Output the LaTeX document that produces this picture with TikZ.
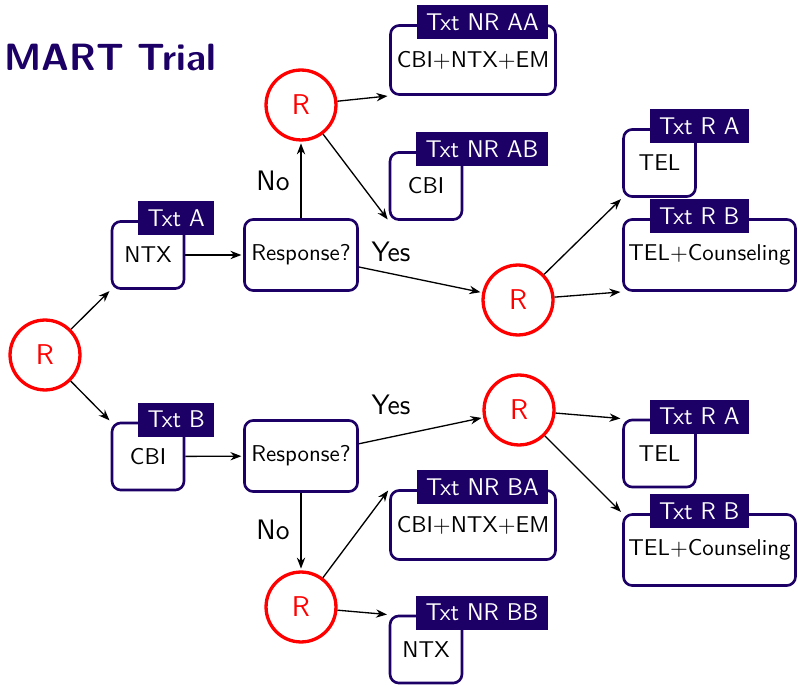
\documentclass[tikz,border=0pt]{standalone}
\usetikzlibrary{arrows.meta}
\definecolor{indigo}{RGB}{28,0,102}
\begin{document}
\begin{tikzpicture}[x=0.4547pt,y=-0.4547pt,
  font=\sffamily,
  rnode/.style={circle,draw=red,line width=1.5pt,text=red,minimum size=31.8pt,
    inner sep=0pt,font=\sffamily\fontsize{13}{15}\selectfont},
  tbox/.style={draw=indigo,line width=1.2pt,rounded corners=4pt,fill=white,
    inner sep=0pt,font=\sffamily\fontsize{10.4}{12}\selectfont},
  smallbox/.style={tbox,minimum width=32.7pt,minimum height=30.5pt},
  widebox/.style={tbox,minimum width=75pt,minimum height=31.4pt},
  telbox/.style={tbox,minimum width=78.2pt,minimum height=32.3pt},
  askbox/.style={tbox,minimum width=51.4pt,minimum height=32.3pt},
  tag/.style={fill=indigo,text=white,inner xsep=4.3pt,inner ysep=0pt,
    minimum height=15.6pt,anchor=west,font=\sffamily\fontsize{11}{13}\selectfont},
  answer/.style={font=\sffamily\fontsize{12.8}{14}\selectfont,inner sep=0pt},
  arr/.style={-{Stealth[length=5pt,width=3.8pt]},line width=0.6pt,shorten >=0.8pt},
]
\useasboundingbox (0,0) rectangle (798,685);

% title
\node[anchor=base west,inner sep=0pt,text=indigo,
  font=\sffamily\bfseries\fontsize{17.28}{20}\selectfont] (title) at (4,71) {MART Trial};

% randomisation points
\node[rnode] (r0)   at (45,355)  {R};
\node[rnode] (rtop) at (301,105) {R};
\node[rnode] (rar)  at (518,300) {R};
\node[rnode] (rbr)  at (519,410) {R};
\node[rnode] (rbot) at (301,607) {R};

% first-stage treatments and response checks
\node[smallbox] (ntx)  at (148,255)   {NTX};
\node[smallbox] (cbi)  at (148,456.5) {CBI};
\node[askbox]   (askA) at (301,255)   {Response?};
\node[askbox]   (askB) at (301,456)   {Response?};

% second-stage treatments
\node[widebox]  (nraa) at (473,60)    {CBI+NTX+EM};
\node[smallbox] (nrab) at (426,186)   {CBI};
\node[smallbox] (ra1)  at (659.5,163) {TEL};
\node[telbox]   (rb1)  at (709.5,255) {TEL+Counseling};
\node[smallbox] (ra2)  at (659.5,453.5) {TEL};
\node[telbox]   (rb2)  at (709.5,550) {TEL+Counseling};
\node[widebox]  (nrba) at (473,525)   {CBI+NTX+EM};
\node[smallbox] (nrbb) at (426,649.5) {NTX};

% tags on the boxes
\foreach \b/\t in {ntx/Txt A, cbi/Txt B, nraa/Txt NR AA, nrab/Txt NR AB,
                   ra1/Txt R A, rb1/Txt R B, ra2/Txt R A, rb2/Txt R B,
                   nrba/Txt NR BA, nrbb/Txt NR BB}
  \node[tag] (tag-\b) at ([xshift=12.3pt,yshift=0.9pt]\b.north west) {\t};

% connectors
\draw[arr] (r0) -- (ntx.south west);
\draw[arr] (r0) -- (cbi.north west);
\draw[arr] (ntx) -- (askA);
\draw[arr] (cbi) -- (askB);
\draw[arr] (askA) -- (rtop);
\draw[arr] (askB) -- (rbot);
\draw[arr] (askA) -- (rar);
\draw[arr] (askB) -- (rbr);
\draw[arr] (rtop) -- (nraa.south west);
\draw[arr] (rtop) -- (nrab.south west);
\draw[arr] (rar) -- (ra1.south west);
\draw[arr] (rar) -- (rb1.south west);
\draw[arr] (rbr) -- (ra2.north west);
\draw[arr] (rbr) -- (rb2.north west);
\draw[arr] (rbot) -- (nrba.north west);
\draw[arr] (rbot) -- (nrbb.north west);

% branch labels
\node[answer] (noA)  at (273,181) {No};
\node[answer] (yesA) at (391,252) {Yes};
\node[answer] (noB)  at (273,530) {No};
\node[answer] (yesB) at (391,405) {Yes};
\end{tikzpicture}
\end{document}
